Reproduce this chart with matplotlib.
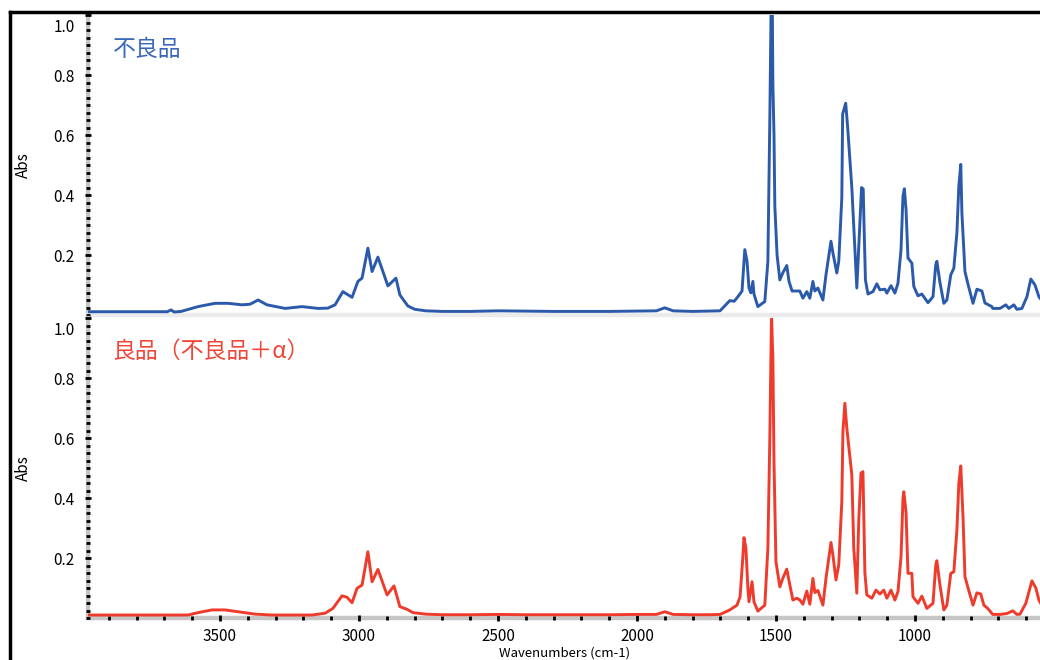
import matplotlib.pyplot as plt
from matplotlib.ticker import MultipleLocator
from matplotlib.lines import Line2D
from matplotlib.transforms import ScaledTranslation

plt.rcParams['font.family'] = ['Noto Sans CJK JP', 'DejaVu Sans']

# 不良品 (上段)
wn_top = [3975, 3690, 3676, 3665, 3640, 3579, 3518, 3471, 3421, 3392, 3363, 3331,
          3266, 3205, 3147, 3112, 3086, 3058, 3025, 3004, 2989, 2968, 2953, 2932,
          2896, 2867, 2853, 2824, 2799, 2760, 2700, 2600, 2500, 2400, 2300, 2200,
          2100, 2000, 1930, 1900, 1870, 1800, 1740, 1701, 1666, 1650, 1637, 1622,
          1612, 1604, 1597, 1590, 1583, 1579, 1565, 1540, 1529, 1522, 1517, 1513,
          1511, 1507, 1504, 1496, 1486, 1475, 1461, 1453, 1442, 1414, 1403, 1389,
          1378, 1367, 1360, 1349, 1331, 1320, 1302, 1295, 1281, 1274, 1263, 1260,
          1249, 1242, 1227, 1216, 1209, 1198, 1192, 1186, 1183, 1178, 1169, 1151,
          1137, 1126, 1108, 1101, 1086, 1072, 1061, 1050, 1043, 1038, 1032, 1025,
          1011, 1004, 989, 975, 953, 935, 925, 921, 910, 896, 885, 871, 860, 849,
          842, 835, 831, 820, 810, 791, 777, 759, 748, 723, 720, 694, 673, 662,
          644, 633, 615, 597, 583, 568, 554, 545]
abs_top = [0.011, 0.011, 0.017, 0.010, 0.012, 0.028, 0.039, 0.039, 0.034, 0.036, 0.050, 0.034,
           0.022, 0.028, 0.022, 0.023, 0.034, 0.078, 0.059, 0.112, 0.123, 0.223, 0.145, 0.193,
           0.097, 0.123, 0.067, 0.030, 0.019, 0.014, 0.012, 0.012, 0.014, 0.013, 0.012, 0.012,
           0.012, 0.013, 0.014, 0.024, 0.014, 0.012, 0.013, 0.014, 0.048, 0.046, 0.061, 0.080,
           0.218, 0.179, 0.090, 0.074, 0.112, 0.070, 0.028, 0.045, 0.179, 0.653, 1.06, 1.02,
           0.77, 0.60, 0.363, 0.201, 0.117, 0.141, 0.165, 0.112, 0.080, 0.080, 0.056, 0.078,
           0.056, 0.112, 0.080, 0.090, 0.050, 0.134, 0.246, 0.207, 0.140, 0.179, 0.391, 0.670,
           0.706, 0.626, 0.425, 0.224, 0.090, 0.302, 0.425, 0.420, 0.296, 0.117, 0.070, 0.078,
           0.104, 0.084, 0.086, 0.073, 0.098, 0.073, 0.106, 0.218, 0.396, 0.421, 0.352, 0.190,
           0.173, 0.095, 0.064, 0.070, 0.041, 0.061, 0.168, 0.179, 0.109, 0.039, 0.050, 0.134, 0.156, 0.274,
           0.430, 0.502, 0.341, 0.145, 0.106, 0.039, 0.086, 0.080, 0.040, 0.028, 0.022, 0.022, 0.034, 0.022,
           0.034, 0.019, 0.022, 0.061, 0.120, 0.100, 0.061, 0.050]

# 良品 (下段)
wn_bot = [3975, 3615, 3579, 3529, 3482, 3435, 3374, 3313, 3169, 3122, 3094, 3061,
          3043, 3025, 3007, 2989, 2968, 2953, 2932, 2899, 2874, 2853, 2827, 2806,
          2760, 2700, 2600, 2500, 2400, 2300, 2200, 2100, 2000, 1930, 1900, 1870,
          1800, 1740, 1701, 1666, 1640, 1629, 1619, 1615, 1608, 1601, 1597, 1586,
          1579, 1565, 1540, 1529, 1522, 1516, 1511, 1507, 1500, 1486, 1475, 1461,
          1450, 1439, 1425, 1414, 1403, 1389, 1378, 1367, 1360, 1349, 1331, 1320,
          1302, 1295, 1284, 1274, 1263, 1259, 1252, 1245, 1227, 1220, 1209, 1202,
          1194, 1187, 1180, 1173, 1155, 1140, 1126, 1112, 1101, 1086, 1072, 1061,
          1050, 1043, 1040, 1032, 1025, 1011, 1007, 989, 975, 957, 935, 925, 921,
          910, 896, 885, 871, 860, 849, 842, 835, 827, 820, 810, 791, 777, 763,
          752, 738, 720, 694, 669, 648, 633, 622, 601, 579, 565, 554, 545]
abs_bot = [0.010, 0.010, 0.018, 0.027, 0.027, 0.021, 0.013, 0.010, 0.010, 0.016, 0.032, 0.074,
           0.069, 0.051, 0.099, 0.110, 0.221, 0.121, 0.162, 0.077, 0.107, 0.038, 0.029, 0.018,
           0.013, 0.011, 0.011, 0.012, 0.011, 0.011, 0.011, 0.011, 0.012, 0.012, 0.021, 0.012,
           0.011, 0.011, 0.012, 0.027, 0.043, 0.071, 0.204, 0.268, 0.233, 0.100, 0.054, 0.121,
           0.054, 0.023, 0.043, 0.233, 0.599, 1.01, 0.866, 0.521, 0.188, 0.104, 0.133, 0.163,
           0.110, 0.060, 0.066, 0.060, 0.046, 0.090, 0.046, 0.132, 0.085, 0.092, 0.043, 0.132,
           0.252, 0.210, 0.127, 0.177, 0.388, 0.621, 0.716, 0.633, 0.477, 0.233, 0.083, 0.327,
           0.483, 0.488, 0.150, 0.077, 0.066, 0.093, 0.080, 0.093, 0.066, 0.093, 0.060, 0.088,
           0.204, 0.399, 0.421, 0.354, 0.149, 0.149, 0.071, 0.049, 0.073, 0.032, 0.049, 0.177, 0.191,
           0.110, 0.027, 0.043, 0.149, 0.154, 0.293, 0.449, 0.507, 0.338, 0.138, 0.104, 0.043, 0.084, 0.080,
           0.043, 0.032, 0.012, 0.012, 0.015, 0.024, 0.012, 0.013, 0.049, 0.124, 0.100, 0.060, 0.045]

yticks = [0.2, 0.4, 0.6, 0.8, 1.0]
ytick_labels = ['0.2', '0.4', '0.6', '0.8', '1.0']
xticks = [3500, 3000, 2500, 2000, 1500, 1000]
xlim = (3975, 550)

fig = plt.figure(figsize=(10.4, 6.6), dpi=100)
ax1 = fig.add_axes([0.0846, 0.5227, 0.9154, 0.4545])
ax2 = fig.add_axes([0.0846, 0.0636, 0.9154, 0.4545])

ax1.plot(wn_top, abs_top, color='#2c5aab', lw=2.1)
ax2.plot(wn_bot, abs_bot, color='#ee3b2c', lw=2.1)

for ax, bottom_col in [(ax1, '#ebebeb'), (ax2, '#c6c6c6')]:
    ax.set_xlim(xlim)
    ax.set_ylim(0, 1.0)
    ax.spines['top'].set_visible(False)
    ax.spines['right'].set_visible(False)
    ax.spines['left'].set_color('#c4c4c4')
    ax.spines['left'].set_linewidth(3)
    ax.spines['left'].set_zorder(1)
    ax.spines['bottom'].set_color(bottom_col)
    ax.spines['bottom'].set_linewidth(3.2)
    ax.spines['bottom'].set_zorder(1)
    ax.set_yticks(yticks, ytick_labels)
    ax.yaxis.set_minor_locator(MultipleLocator(0.025))
    ax.tick_params(axis='y', which='major', direction='inout', length=5, width=2,
                   labelsize=11, pad=7, color='black')
    ax.tick_params(axis='y', which='minor', direction='inout', length=2.2, width=2,
                   color='black')
    # 一番上の 1.0 は少し下にずらす
    top_lab = ax.get_yticklabels()[-1]
    top_lab.set_verticalalignment('top')
    top_lab.set_transform(top_lab.get_transform()
                          + ScaledTranslation(0, -3 / 72, fig.dpi_scale_trans))
    ax.set_ylabel('Abs', fontsize=11)
    ax.yaxis.set_label_coords(-0.059, 0.5)

ax1.tick_params(axis='x', which='both', bottom=False, labelbottom=False)
ax2.set_xticks(xticks)
ax2.xaxis.set_minor_locator(MultipleLocator(100))
ax2.tick_params(axis='x', which='major', direction='inout', length=5, width=2,
                labelsize=11, pad=5, color='black')
ax2.tick_params(axis='x', which='minor', direction='inout', length=2.2, width=2,
                color='black')

ax1.text(0.026, 0.885, '不良品', transform=ax1.transAxes, fontsize=16.5,
         color='#3a68bd', va='center', ha='left')
ax2.text(0.026, 0.888, '良品（不良品＋α）', transform=ax2.transAxes, fontsize=16.5,
         color='#f0463a', va='center', ha='left')

fig.text(0.5424, 0.0, 'Wavenumbers (cm-1)', ha='center', va='bottom', fontsize=9.5)

# 外枠
fig.add_artist(Line2D([10 / 1040, 10 / 1040], [0, 1 - 12 / 660], color='black', lw=2.5))
fig.add_artist(Line2D([10 / 1040, 1], [1 - 12 / 660, 1 - 12 / 660], color='black', lw=2.5))

fig.savefig('out.png', dpi=100, facecolor='white')
